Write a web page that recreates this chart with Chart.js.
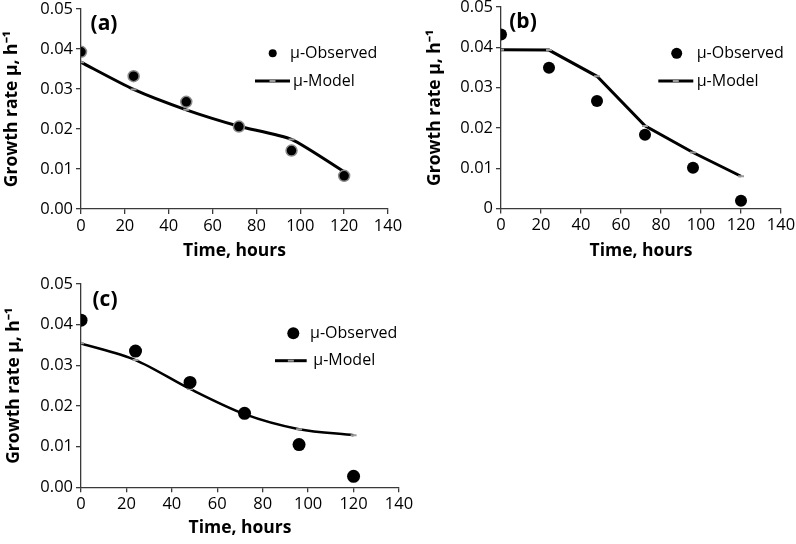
<!DOCTYPE html>
<html><head><meta charset="utf-8">
<script src="https://cdn.jsdelivr.net/npm/chart.js@4"></script>
<style>
html,body{margin:0;padding:0;background:#fff}
body{width:796px;height:544px;overflow:hidden;position:relative}
.p{position:absolute}
.p canvas{display:block}
</style></head><body>
<div class="p" id="boxA"><canvas id="ca"></canvas></div>
<div class="p" id="boxB"><canvas id="cb"></canvas></div>
<div class="p" id="boxC"><canvas id="cc"></canvas></div>
<script>
// ---- data ----
const hours = [0, 24, 48, 72, 96, 120];
const obsA = [0.0393, 0.0332, 0.0268, 0.0206, 0.0146, 0.0083];
const modA = [0.0367, 0.0299, 0.0248, 0.0207, 0.0174, 0.0093];
const obsB = [0.0432, 0.0349, 0.0267, 0.0183, 0.0101, 0.0019];
const modB = [0.0394, 0.0393, 0.0328, 0.0205, 0.0139, 0.0080];
const obsC = [0.0411, 0.0335, 0.0258, 0.0182, 0.0105, 0.0027];
const modC = [0.0354, 0.0313, 0.0242, 0.0180, 0.0143, 0.0128];
const xTickLabels = ['0', '20', '40', '60', '80', '100', '120', '140'];
const yTickLabelsAC = ['0.00', '0.01', '0.02', '0.03', '0.04', '0.05'];
const yTickLabelsB = ['0', '0.01', '0.02', '0.03', '0.04', '0.05'];
const seriesNames = ['μ-Observed', 'μ-Model'];
const xTitle = 'Time, hours';
const yTitle = 'Growth rate μ, h⁻¹';
const panelLabels = ['(a)', '(b)', '(c)'];

// ---- layout / style ----
const FONT = "'Open Sans', 'Liberation Sans', sans-serif";
const AXIS = '#3a3a3a';
const panels = [
  {id:'ca', box:'boxA', pos:{left:0, top:0, w:430, h:270}, area:{l:81, t:9, r:388, b:209},
   yTitleX:12, xTitleY:251, label:{x:104, y:24}, obs:obsA, mod:modA, yt:yTickLabelsAC, name:panelLabels[0],
   obsStyle:{r:5.5, border:'#8a8a8a', bw:1.5}, tension:0.2, lw:3,
   leg:{mx:272.7, my:53.3, tx:290, lx1:255, lx2:290, ly:81, tx2:293, mr:4}},
  {id:'cb', box:'boxB', pos:{left:400, top:0, w:420, h:270}, area:{l:101, t:7, r:381, b:208.5},
   yTitleX:35, xTitleY:251, label:{x:123, y:22}, obs:obsB, mod:modB, yt:yTickLabelsB, name:panelLabels[1],
   obsStyle:{r:6, border:'#000', bw:0}, tension:0, lw:3,
   leg:{mx:276.7, my:53.3, tx:296.7, lx1:258.3, lx2:293.3, ly:81, tx2:296.7, mr:5.5}},
  {id:'cc', box:'boxC', pos:{left:0, top:270, w:430, h:274}, area:{l:81, t:14, r:399, b:217.3},
   yTitleX:14.5, xTitleY:258, label:{x:105, y:30}, obs:obsC, mod:modC, yt:yTickLabelsAC, name:panelLabels[2],
   obsStyle:{r:6.5, border:'#000', bw:0}, tension:0.3, lw:2.5,
   leg:{mx:293.3, my:63.3, tx:310, lx1:275, lx2:306.7, ly:90.7, tx2:313.3, mr:6}}
];

const extras = {
  id: 'extras',
  afterDraw(chart, args, o) {
    const ctx = chart.ctx, L = o.leg;
    ctx.save();
    ctx.font = "bold 21px " + FONT;
    ctx.fillStyle = '#000';
    ctx.textAlign = 'center';
    ctx.textBaseline = 'middle';
    ctx.fillText(o.name, o.label.x, o.label.y);
    ctx.beginPath();
    ctx.arc(L.mx, L.my, L.mr, 0, Math.PI * 2);
    ctx.fillStyle = '#000';
    ctx.fill();
    ctx.beginPath();
    ctx.moveTo(L.lx1, L.ly); ctx.lineTo(L.lx2, L.ly);
    ctx.strokeStyle = '#000'; ctx.lineWidth = 3; ctx.stroke();
    ctx.beginPath();
    const mx = (L.lx1 + L.lx2) / 2;
    ctx.moveTo(mx - 3, L.ly); ctx.lineTo(mx + 3, L.ly);
    ctx.strokeStyle = '#999'; ctx.lineWidth = 2; ctx.stroke();
    ctx.font = "16px " + FONT;
    ctx.fillStyle = '#000';
    ctx.textAlign = 'left';
    ctx.fillText(seriesNames[0], L.tx, L.my);
    ctx.fillText(seriesNames[1], L.tx2, L.ly);
    ctx.restore();
  }
};

panels.forEach(P => {
  const box = document.getElementById(P.box);
  box.style.left = P.pos.left + 'px';
  box.style.top = P.pos.top + 'px';
  box.style.width = P.pos.w + 'px';
  box.style.height = P.pos.h + 'px';
  const cv = document.getElementById(P.id);
  cv.width = P.pos.w; cv.height = P.pos.h;
  cv.style.width = P.pos.w + 'px'; cv.style.height = P.pos.h + 'px';
  const padLeft = P.yTitleX - 12;
  const yW = P.area.l - padLeft;
  const scaleBottom = P.xTitleY + 14;
  const xH = scaleBottom - P.area.b;
  const padBottom = P.pos.h - scaleBottom;
  const tickFont = {family: FONT, size: 16.5, lineHeight: 1};
  const titleFont = {family: FONT, size: 17.5, weight: 'bold', lineHeight: 1.2};
  new Chart(cv, {
    type: 'line',
    data: {
      datasets: [
        {label: seriesNames[0], data: hours.map((h, i) => ({x: h, y: P.obs[i]})),
         showLine: false, pointRadius: P.obsStyle.r, pointBackgroundColor: '#000',
         pointBorderColor: P.obsStyle.border, pointBorderWidth: P.obsStyle.bw, order: 1},
        {label: seriesNames[1], data: hours.map((h, i) => ({x: h, y: P.mod[i]})),
         borderColor: '#000', borderWidth: P.lw, tension: P.tension, cubicInterpolationMode: 'default',
         pointStyle: 'line', pointRadius: 3, pointBorderColor: '#9a9a9a', pointBorderWidth: 2, order: 2}
      ]
    },
    options: {
      responsive: false, animation: false, devicePixelRatio: 1,
      layout: {padding: {left: padLeft, top: P.area.t, right: P.pos.w - P.area.r, bottom: padBottom}},
      plugins: {legend: {display: false}, tooltip: {enabled: false}, extras: P},
      scales: {
        x: {type: 'linear', min: 0, max: 140,
            ticks: {stepSize: 20, autoSkip: false, color: '#000', font: tickFont, padding: 4, maxRotation: 0,
                    callback: (v, i) => xTickLabels[i]},
            grid: {display: true, drawOnChartArea: false, drawTicks: true, tickLength: 5, color: AXIS, lineWidth: 1.3},
            border: {display: true, color: AXIS, width: 1.3},
            title: {display: true, text: xTitle, color: '#000', font: titleFont, padding: {top: 0, bottom: 3.5}},
            afterFit: s => { s.height = xH; s.paddingLeft = 0; s.paddingRight = 0; }},
        y: {type: 'linear', min: 0, max: 0.05,
            ticks: {stepSize: 0.01, autoSkip: false, color: '#000', font: tickFont, padding: 3,
                    callback: (v, i) => P.yt[i]},
            grid: {display: true, drawOnChartArea: false, drawTicks: true, tickLength: 5, color: AXIS, lineWidth: 1.3},
            border: {display: true, color: AXIS, width: 1.3},
            title: {display: true, text: yTitle, color: '#000', font: titleFont, padding: {top: 1.5, bottom: 0}},
            afterFit: s => { s.width = yW; s.paddingTop = 0; s.paddingBottom = 0; }}
      }
    },
    plugins: [extras]
  });
});
</script>
</body></html>
